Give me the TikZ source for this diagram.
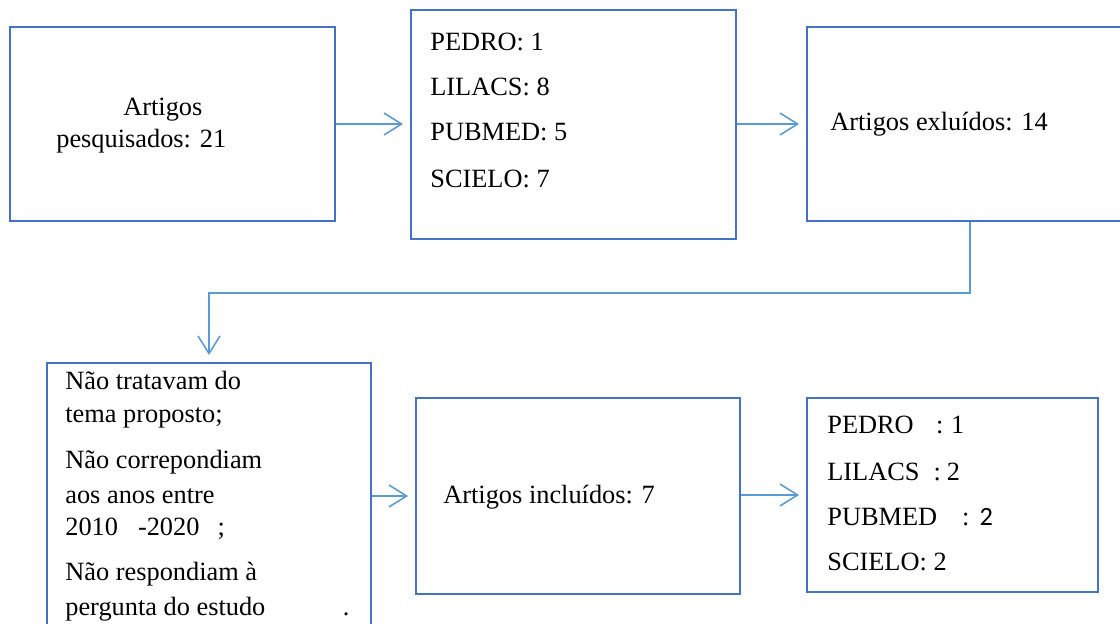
\documentclass[tikz,border=0pt]{standalone}
\usepackage{fontspec}
\setmainfont{Liberation Serif}
\newfontfamily\calib{Carlito}
\usetikzlibrary{arrows.meta}
\definecolor{azulcaixa}{RGB}{68,114,196}
\definecolor{azulseta}{RGB}{91,155,213}
\tikzset{
  caixa/.style = {rectangle, draw=azulcaixa, line width=1.1pt, inner sep=0pt},% caixa do fluxograma
  txt/.style = {anchor=base west, inner sep=0pt,
    font=\fontsize{15}{18}\selectfont},% texto, ancorado na linha de base
  seta/.style = {draw=azulseta, line width=0.9pt,
    -{Straight Barb[length=10pt,width=12.5pt]}, shorten >=4pt}% seta azul clara
}

\begin{document}
\begin{tikzpicture}[x=0.02cm,y=-0.02cm]
\useasboundingbox (0,0) rectangle (1120,623);
% linha de cima
\node [caixa, minimum width=6.5cm, minimum height=3.88cm] (pesq) at (172.5,124) {};
\node [caixa, minimum width=6.5cm, minimum height=4.58cm] (bases) at (573.5,124.5) {};
\node [caixa, minimum width=6.52cm, minimum height=3.88cm] (excl) at (970,124) {};
% linha de baixo
\node [caixa, minimum width=6.48cm, minimum height=5.54cm] (motivos) at (209,501.5) {};
\node [caixa, minimum width=6.48cm, minimum height=3.92cm] (incl) at (578,496) {};
\node [caixa, minimum width=5.82cm, minimum height=3.88cm] (final) at (952.5,495) {};

\node [txt] (t_pesq1) at (123,115) {Artigos};
\node [txt] (t_pesq2) at (56,147) {pesquisados: 21};

\node [txt] (t_b1) at (430,50) {PEDRO: 1};
\node [txt] (t_b2) at (430,95) {LILACS: 8};
\node [txt] (t_b3) at (430,140) {PUBMED: 5};
\node [txt] (t_b4) at (430,187) {SCIELO: 7};

\node [txt] (t_excl) at (830,130) {Artigos exluídos: 14};

\node [txt] (t_m1) at (65,389) {Não tratavam do};
\node [txt] (t_m2) at (65,422) {tema proposto;};
\node [txt] (t_m3) at (65,468) {Não correpondiam};
\node [txt] (t_m4) at (65,503) {aos anos entre};
\node [txt] (t_m5) at (65,535) {2010\hspace{0.4cm}-2020\hspace{0.36cm};};
\node [txt] (t_m6) at (65,580) {Não respondiam à};
\node [txt] (t_m7) at (65,615) {pergunta do estudo\hspace{1.55cm}.};

\node [txt] (t_incl) at (443,503) {Artigos incluídos: 7};

\node [txt] (t_f1) at (827,433) {PEDRO\hspace{0.45cm}:\hspace{0.15cm}1};
\node [txt] (t_f2) at (827,480) {LILACS\hspace{0.28cm}:\hspace{0.12cm}2};
\node [txt] (t_f3) at (827,525) {PUBMED\hspace{0.5cm}:\hspace{0.2cm}{\calib 2}};
\node [txt] (t_f4) at (827,570) {SCIELO: 2};

% setas
\draw [seta] (pesq.east) -- (bases.west |- pesq.east);
\draw [seta] (bases.east |- excl.west) -- (excl.west);
\draw [seta] (excl.south) -- ++(0,71) -| (motivos.north);
\draw [seta] (motivos.east |- incl.west) -- (incl.west);
\draw [seta] (incl.east |- final.west) -- (final.west);
\end{tikzpicture}
\end{document}
